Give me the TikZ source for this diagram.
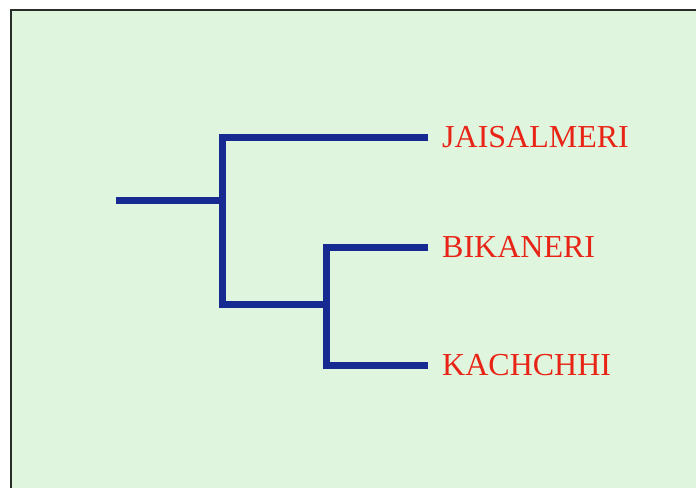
\documentclass[tikz,border=0pt]{standalone}
\usepackage{fontspec}
\setmainfont{Liberation Serif}
\definecolor{panel}{RGB}{224,245,222}
\definecolor{branch}{RGB}{22,42,145}
\definecolor{taxon}{RGB}{232,36,22}
\definecolor{frameline}{RGB}{40,45,40}
\tikzset{
  edge/.style={draw=branch, line width=7pt, line join=miter, line cap=butt},
  leaf/.style={anchor=west, text=taxon, font=\fontsize{32}{34}\selectfont,
               inner xsep=14pt, inner ysep=0pt, text height=21pt, text depth=0pt},
}
\begin{document}
\begin{tikzpicture}[x=1pt,y=-1pt]
  \useasboundingbox (0,0) rectangle (696,488);
  % slide panel and its frame (top and left edges)
  \fill[white] (0,0) rectangle (696,488);
  \fill[panel] (10,9) rectangle (696,488);
  \draw[frameline, line width=2pt] (11,488) -- (11,10) -- (696,10);

  % internal nodes of the tree
  \coordinate (root) at (116,200);
  \coordinate (n1) at (222,200);
  \coordinate (n2) at (326,304);

  % tips
  \node[leaf] (jai) at (428,137) {JAISALMERI};
  \node[leaf] (bik) at (428,247) {BIKANERI};
  \node[leaf] (kac) at (428,365) {KACHCHHI};

  % branches
  \draw[edge] (root) -- (n1);
  \draw[edge] (jai.west) -| (n1) |- (n2);
  \draw[edge] (bik.west) -| (n2) |- (kac.west);
\end{tikzpicture}
\end{document}
